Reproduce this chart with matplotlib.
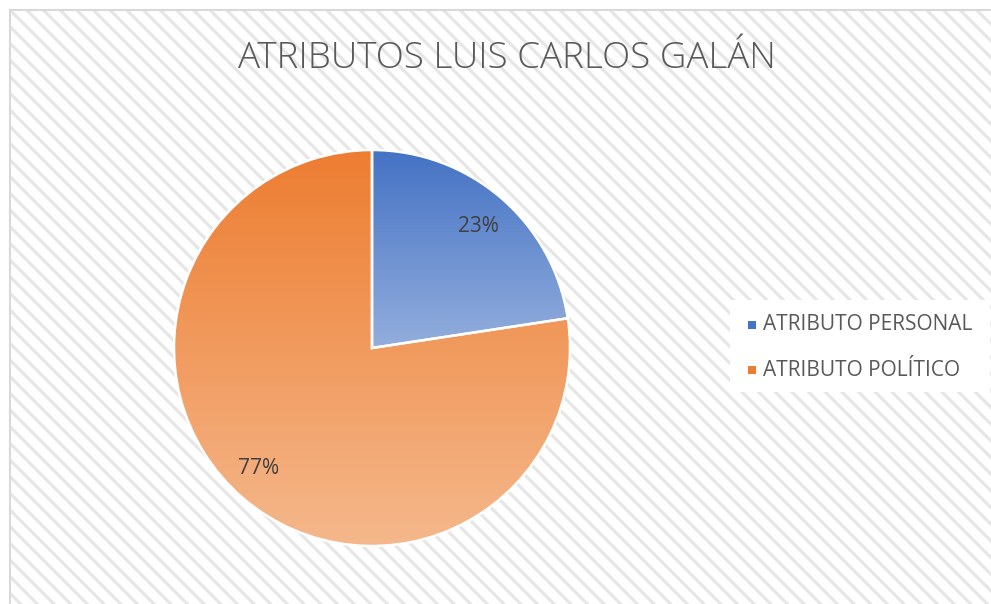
import numpy as np
import matplotlib
matplotlib.use("Agg")
from matplotlib import pyplot as plt
from matplotlib.patches import Rectangle
from matplotlib.colors import LinearSegmentedColormap

labels = ["ATRIBUTO PERSONAL", "ATRIBUTO POLÍTICO"]
values = [22.6, 77.4]
top_colors = ["#4472C4", "#ED7D31"]
bottom_colors = ["#93AEDD", "#F5B88C"]

plt.rcParams['font.family'] = ['Open Sans', 'DejaVu Sans']
plt.rcParams['hatch.linewidth'] = 2.3

W, H = 991, 604
fig = plt.figure(figsize=(W / 100, H / 100), dpi=100)
fig.patch.set_facecolor('white')

# striped chart area with light border (only top and left edges visible)
bg = Rectangle((10 / W, -0.05), 1.1, 1.05 - 10 / H, transform=fig.transFigure,
               facecolor='white', edgecolor='#E6E6E6', linewidth=0,
               hatch='\\\\', zorder=-5)
fig.patches.append(bg)
border = Rectangle((10 / W, -0.05), 1.1, 1.05 - 10 / H, transform=fig.transFigure,
                   facecolor='none', edgecolor='#D9D9D9', linewidth=1.5, zorder=-4)
fig.patches.append(border)

fig.text(507 / W, 1 - 58 / H, "ATRIBUTOS LUIS CARLOS GALÁN", ha='center', va='center',
         fontsize=26.5, color='#595959', fontweight='light')

cx, cy, r = 372, 348, 198
ax = fig.add_axes([(cx - r) / W, (H - cy - r) / H, 2 * r / W, 2 * r / H])
ax.set_zorder(2)

wedges, texts, autotexts = ax.pie(values, startangle=90, counterclock=False, radius=1,
                                  autopct='%1.0f%%', pctdistance=0.7,
                                  wedgeprops=dict(edgecolor='white', linewidth=1.8),
                                  textprops=dict(fontsize=15, color='#404040'))
for w, top, bot in zip(wedges, top_colors, bottom_colors):
    cmap = LinearSegmentedColormap.from_list('g', [bot, top])
    pts = w.get_patch_transform().transform(w.get_path().vertices)
    grad = np.linspace(0, 1, 256).reshape(-1, 1)
    im = ax.imshow(grad, cmap=cmap, origin='lower', aspect='auto',
                   extent=[pts[:, 0].min(), pts[:, 0].max(), pts[:, 1].min(), pts[:, 1].max()],
                   zorder=0.5)
    im.set_clip_path(w)
    w.set_facecolor('none')
    w.set_zorder(1)
ax.set_xlim(-1, 1)
ax.set_ylim(-1, 1)
ax.set_aspect('auto')
ax.axis('off')

autotexts[0].set_position(((478 - cx) / r, (cy - 226) / r))
autotexts[1].set_position(((259 - cx) / r, (cy - 469) / r))
for t in autotexts:
    t.set_zorder(3)

# legend
lax = fig.add_axes([730 / W, (H - 392) / H, 260 / W, 92 / H])
lax.set_zorder(2)
lax.set_xlim(730, 990)
lax.set_ylim(392, 300)
lax.axis('off')
lax.add_patch(Rectangle((730, 300), 260, 92, facecolor='white', edgecolor='none'))
for i, (lab, c) in enumerate(zip(labels, top_colors)):
    y = 325 + i * 45
    lax.add_patch(Rectangle((748, y - 4), 8, 8, facecolor=c, edgecolor='none'))
    lax.text(763, y, lab, va='center', ha='left', fontsize=15, color='#595959')

fig.savefig("out.png", dpi=100)
